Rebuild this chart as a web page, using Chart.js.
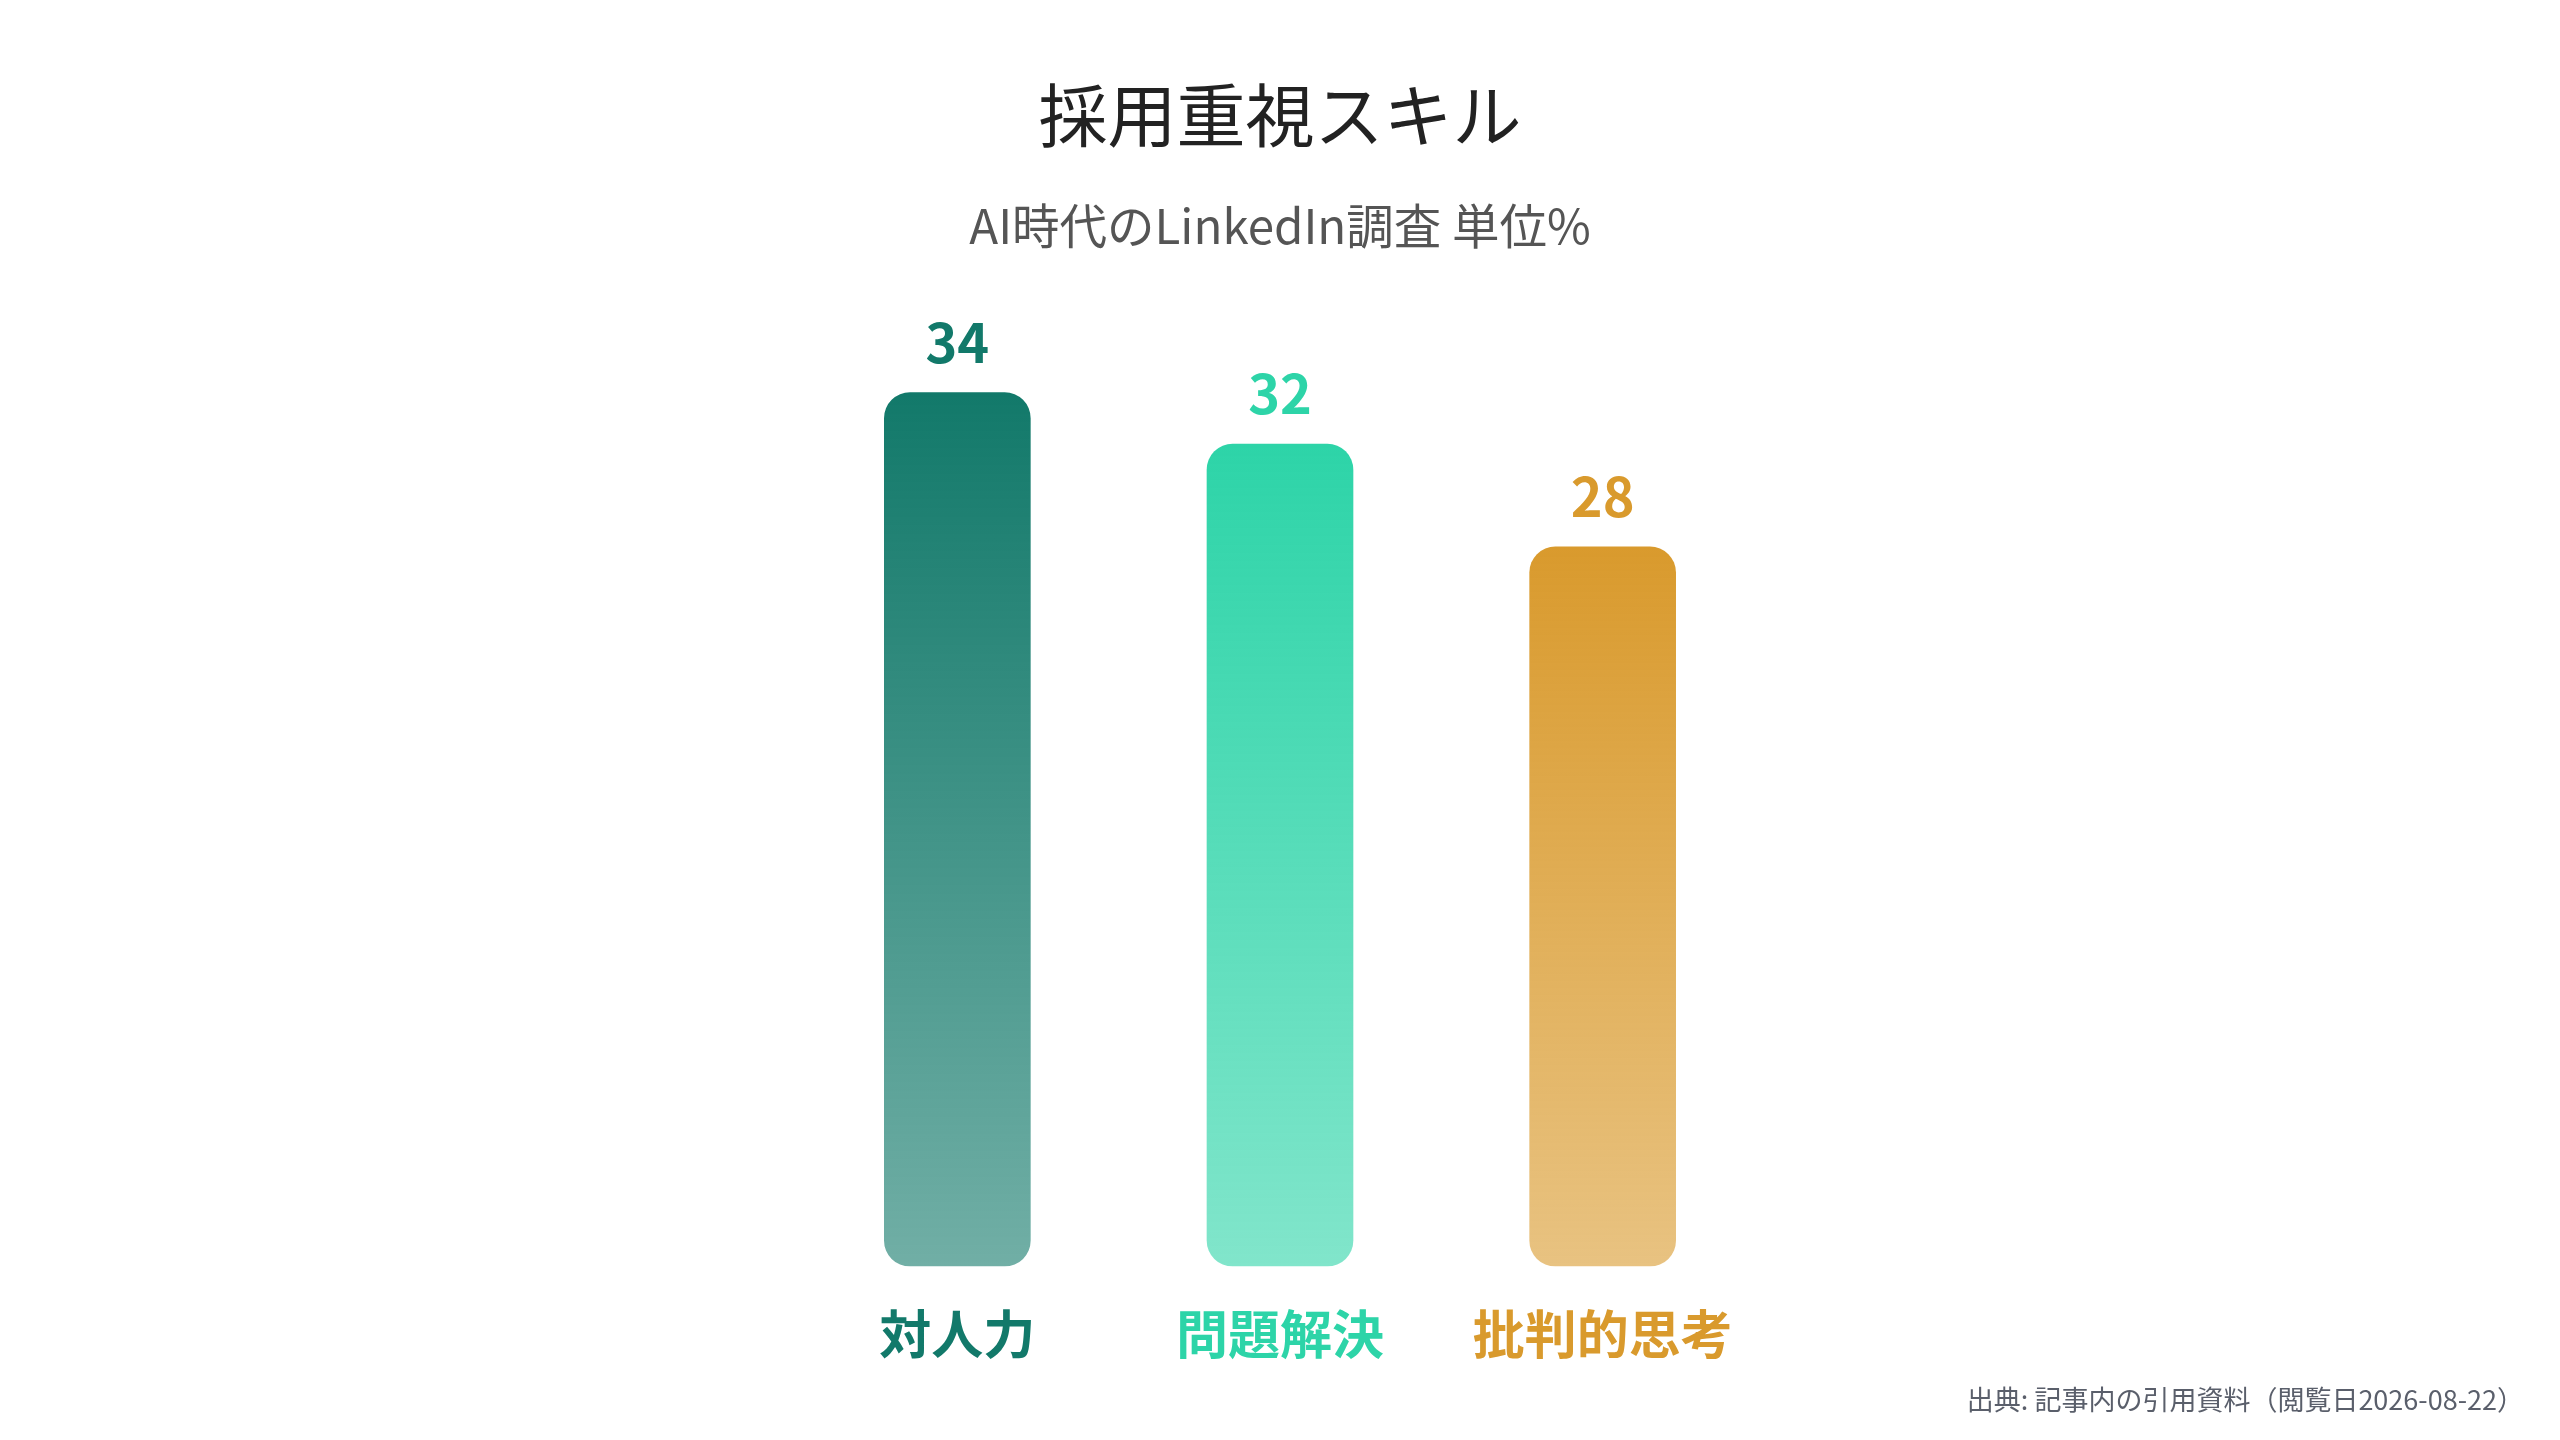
<!DOCTYPE html>
<html lang="ja">
<head>
<meta charset="utf-8">
<title>採用重視スキル</title>
<script src="https://cdn.jsdelivr.net/npm/chart.js@4.4.1/dist/chart.umd.min.js"></script>
<style>
    html, body { margin: 0; padding: 0; background: #ffffff; }
    #wrap { width: 2560px; height: 1440px; position: relative; }
</style>
</head>
<body>
<div id="wrap"><canvas id="skillChart"></canvas></div>
<script>
const categories = ['対人力', '問題解決', '批判的思考'];
const values = [34, 32, 28];
const barColors = ['#12796a', '#2dd4a8', '#d99a2d'];
const sourceNote = '出典: 記事内の引用資料（閲覧日2026-08-22）';

const FONT = '"Noto Sans CJK JP", "Noto Sans", sans-serif';

function hexToRgba(hex, alpha) {
    const n = parseInt(hex.slice(1), 16);
    return `rgba(${(n >> 16) & 255}, ${(n >> 8) & 255}, ${n & 255}, ${alpha})`;
}

// vertical fade for each bar, from its own top down to the baseline
function barGradient(context) {
    const chart = context.chart;
    const base = barColors[context.dataIndex];
    if (!chart.chartArea || !chart.scales.y) return base;
    const yScale = chart.scales.y;
    const top = yScale.getPixelForValue(context.raw);
    const bottom = yScale.getPixelForValue(0);
    const g = chart.ctx.createLinearGradient(0, top, 0, bottom);
    g.addColorStop(0, hexToRgba(base, 1));
    g.addColorStop(1, hexToRgba(base, 0.6));
    return g;
}

const valueLabels = {
    id: 'valueLabels',
    afterDatasetsDraw(chart) {
        const ctx = chart.ctx;
        const meta = chart.getDatasetMeta(0);
        ctx.save();
        ctx.font = `bold 54px ${FONT}`;
        ctx.textAlign = 'center';
        ctx.textBaseline = 'bottom';
        meta.data.forEach((bar, i) => {
            ctx.fillStyle = barColors[i];
            ctx.fillText(String(values[i]), bar.x, bar.y - 23);
        });
        ctx.restore();
    }
};

const sourceLabel = {
    id: 'sourceLabel',
    afterDraw(chart) {
        const ctx = chart.ctx;
        ctx.save();
        ctx.font = `27px ${FONT}`;
        ctx.fillStyle = '#5a5f6b';
        ctx.textAlign = 'right';
        ctx.textBaseline = 'middle';
        ctx.fillText(sourceNote, chart.width - 36, 1400);
        ctx.restore();
    }
};

const chartCtx = document.getElementById('skillChart').getContext('2d');
new Chart(chartCtx, {
    type: 'bar',
    data: {
        labels: categories,
        datasets: [{
            data: values,
            backgroundColor: barGradient,
            borderRadius: 26,
            borderSkipped: false,
            barPercentage: 0.9,
            categoryPercentage: 0.505
        }]
    },
    options: {
        responsive: true,
        maintainAspectRatio: false,
        animation: false,
        devicePixelRatio: 1,
        layout: {
            padding: { top: 0, bottom: 39, left: 796, right: 796 }
        },
        scales: {
            x: {
                grid: { display: false, drawTicks: false },
                border: { display: false },
                ticks: {
                    padding: 36,
                    font: { size: 52, weight: 'bold', family: FONT },
                    color: (c) => barColors[c.index]
                }
            },
            y: {
                display: false,
                min: 0,
                max: 36
            }
        },
        plugins: {
            legend: { display: false },
            tooltip: { enabled: false },
            title: {
                display: true,
                text: '採用重視スキル',
                color: '#222222',
                font: { size: 69, weight: 'normal', family: FONT },
                padding: { top: 74, bottom: 22 }
            },
            subtitle: {
                display: true,
                text: 'AI時代のLinkedIn調査 単位%',
                color: '#555555',
                font: { size: 47.5, weight: 'normal', family: FONT },
                padding: { top: 19, bottom: 86 }
            }
        }
    },
    plugins: [valueLabels, sourceLabel]
});
</script>
</body>
</html>
